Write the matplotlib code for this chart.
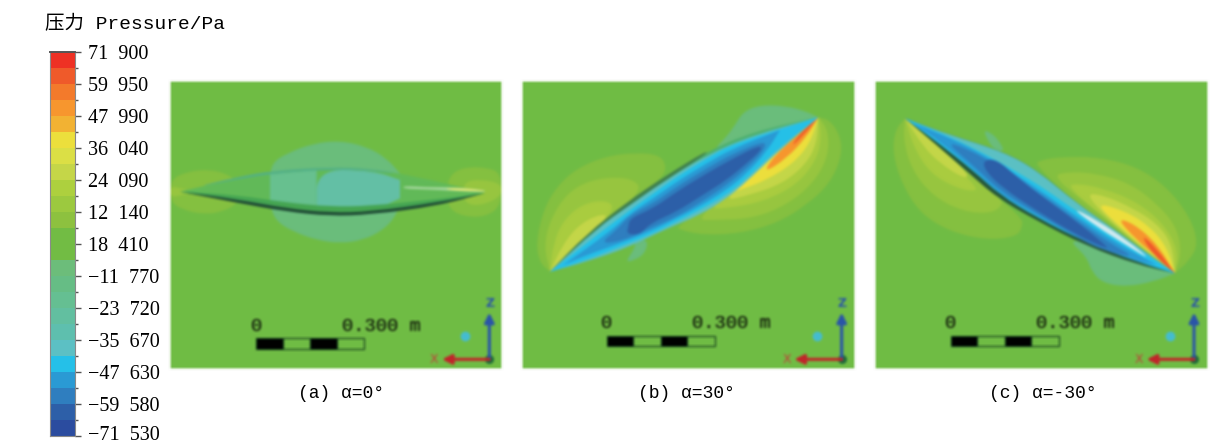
import numpy as np
import matplotlib
matplotlib.use('Agg')
import matplotlib.pyplot as plt
from matplotlib.colors import ListedColormap
from matplotlib.path import Path
from matplotlib.patches import PathPatch, Rectangle
from matplotlib.transforms import ScaledTranslation

W, H = 1215, 443

# colour scale
band_colors = ['#ee3124', '#ef5a2a', '#f37a2b', '#f7962e', '#f2b233', '#ecdf3c',
               '#dbdf45', '#c5d648', '#add03e', '#9cc93f', '#8dc13f', '#72bc44',
               '#72bc44', '#6cbd7a', '#66bd85', '#65bf92', '#62bfa0', '#5ebfae',
               '#5cc0c4', '#25c0e8', '#2a9ad4', '#2f7ebf', '#2d5fa8', '#2b4c9f']
bar_labels = ['71\u2002900', '59\u2002950', '47\u2002990', '36\u2002040', '24\u2002090',
              '12\u2002140', '18\u2002410', '\u221211\u2002770', '\u221223\u2002720',
              '\u221235\u2002670', '\u221247\u2002630', '\u221259\u2002580', '\u221271\u2002530']
captions = ['(a) \u03b1=0\u00b0', '(b) \u03b1=30\u00b0', '(c) \u03b1=-30\u00b0']

# outlines, in 3x crop pixels of each panel
a_tips = [(30, 335), (945, 339), (300, 282), (440, 270), (440, 398), (300, 382),
          (690, 300), (690, 355)]
a_lobe_l = [(0, 300), (50, 275), (120, 268), (180, 285), (215, 320), (210, 365), (160, 395),
            (100, 403), (40, 390), (0, 365)]
a_lobe_l2 = [(0, 318), (40, 326), (70, 335), (40, 345), (0, 352)]
a_lobe_r = [(995, 280), (950, 262), (880, 262), (840, 285), (830, 330), (835, 385), (880, 410),
            (950, 410), (995, 375)]
a_lobe_r2 = [(995, 310), (930, 298), (885, 305), (880, 335), (885, 370), (930, 378), (995, 350)]
a_patch = [(305, 250), (350, 220), (430, 190), (510, 182), (590, 200), (650, 235), (690, 280),
           (705, 300), (690, 360), (680, 405), (640, 450), (580, 480), (510, 490), (440, 480),
           (370, 455), (320, 425), (300, 380), (300, 300)]
a_body = [(30, 335), (200, 295), (310, 275), (480, 263), (600, 268), (720, 285), (945, 339),
          (800, 375), (600, 402), (480, 407), (350, 392), (200, 365)]
a_mid1 = [(300, 282), (440, 270), (440, 398), (300, 382)]
a_mid2 = [(440, 268), (610, 272), (690, 300), (690, 355), (610, 392), (440, 398)]
a_shade = [(30, 335), (200, 345), (350, 368), (480, 380), (600, 378), (800, 358), (945, 339),
           (800, 375), (600, 402), (480, 407), (350, 392), (200, 365)]
a_edge = [(30, 335), (200, 358), (350, 385), (480, 398), (600, 395), (800, 368), (945, 339),
          (800, 378), (600, 404), (480, 408), (350, 395), (200, 368)]
a_top = [(60, 325), (200, 292), (310, 272), (480, 262), (600, 266), (700, 284), (600, 272),
         (480, 268), (310, 280), (200, 298)]
a_glint = [(700, 318), (770, 322), (830, 322), (900, 325), (965, 335), (900, 335), (830, 331),
           (770, 328), (700, 326)]
a_glint2 = [(830, 324), (900, 327), (960, 335), (900, 333), (830, 329)]

b_tips = [(90, 575), (895, 112), (130, 555), (780, 150)]
b_l1 = [(90, 575), (60, 550), (48, 490), (70, 390), (110, 320), (170, 265), (260, 228), (350, 218),
        (420, 225), (440, 260), (425, 295), (330, 370), (230, 470), (150, 530)]
b_l2 = [(90, 575), (72, 500), (90, 420), (140, 340), (210, 300), (300, 290), (350, 305), (360, 330),
        (310, 385), (220, 470)]
b_l3 = [(90, 575), (100, 490), (130, 420), (190, 370), (260, 360), (285, 385), (220, 460)]
b_l4 = [(90, 575), (125, 500), (170, 440), (230, 405), (270, 405), (200, 480)]
b_r1 = [(895, 112), (930, 120), (962, 170), (965, 230), (930, 310), (860, 375), (770, 430),
        (660, 460), (550, 465), (480, 450), (470, 440), (600, 350), (750, 240)]
b_r2 = [(895, 112), (925, 150), (925, 230), (880, 310), (800, 375), (700, 415), (590, 420),
        (520, 420), (720, 260)]
b_r3 = [(895, 112), (905, 170), (890, 240), (830, 315), (730, 365), (620, 385), (560, 385), (740, 250)]
b_r4 = [(895, 112), (890, 190), (860, 250), (790, 310), (690, 345), (600, 365), (750, 240)]
b_r5 = [(895, 112), (870, 190), (820, 250), (740, 300), (660, 330), (620, 340), (770, 220)]
b_r6 = [(895, 112), (860, 170), (800, 235), (730, 280), (760, 230), (840, 160)]
b_r7 = [(895, 112), (855, 160), (810, 205), (840, 160)]
b_patch1 = [(895, 112), (860, 95), (800, 78), (720, 75), (670, 95), (645, 135), (620, 170),
            (575, 215), (700, 180)]
b_patch2 = [(385, 480), (375, 520), (345, 540), (315, 547), (345, 505), (345, 480)]
b_body = [(90, 575), (200, 465), (320, 370), (430, 295), (560, 215), (700, 155), (895, 112),
          (790, 200), (650, 320), (540, 400), (430, 450), (330, 500), (200, 545)]
b_top = [(90, 575), (200, 462), (320, 367), (430, 292), (560, 212), (560, 222), (430, 305),
         (320, 385), (200, 480)]
b_c1 = [(90, 575), (230, 445), (330, 375), (430, 305), (560, 225), (700, 165), (895, 112),
        (790, 200), (680, 305), (620, 355), (540, 405), (430, 450), (330, 500), (200, 545)]
b_c2 = [(90, 575), (250, 450), (330, 390), (400, 340), (470, 290), (560, 235), (640, 190), (895, 112),
        (780, 200), (680, 295), (620, 345), (530, 395), (460, 430), (390, 465), (300, 500), (200, 540)]
b_c3 = [(130, 555), (270, 455), (330, 400), (400, 355), (470, 305), (560, 250), (640, 205), (780, 150),
        (740, 215), (680, 280), (620, 330), (530, 385), (460, 420), (390, 455), (300, 490), (200, 525)]
b_c4 = [(240, 490), (290, 450), (330, 405), (400, 370), (470, 320), (560, 265), (640, 220), (740, 180),
        (730, 215), (680, 265), (620, 315), (540, 368), (470, 410), (390, 445), (300, 485)]
b_c5 = [(325, 440), (330, 415), (400, 385), (470, 335), (560, 280), (640, 235), (720, 195), (725, 210),
        (680, 250), (620, 300), (540, 350), (470, 395), (390, 430), (360, 465), (320, 462)]

c_tips = [(105, 115), (915, 580), (130, 130), (860, 555)]
c_l1 = [(105, 115), (75, 150), (68, 220), (95, 310), (150, 400), (240, 455), (350, 480), (440, 470),
        (458, 440), (455, 410), (300, 285)]
c_l2 = [(105, 115), (100, 180), (125, 270), (190, 350), (280, 395), (360, 400), (395, 380),
        (395, 355), (300, 280)]
c_l3 = [(105, 115), (130, 200), (180, 280), (260, 325), (320, 335), (315, 315), (200, 200)]
c_l4 = [(105, 115), (160, 200), (210, 250), (280, 295), (300, 285), (200, 195)]
c_r1 = [(915, 580), (960, 540), (985, 490), (960, 410), (890, 320), (800, 260), (690, 232),
        (580, 230), (510, 240), (495, 255), (620, 370), (760, 470)]
c_r2 = [(915, 580), (935, 520), (920, 440), (860, 370), (780, 310), (680, 280), (590, 275),
        (545, 290), (700, 410)]
c_r3 = [(915, 580), (925, 510), (880, 430), (800, 365), (700, 325), (620, 310), (590, 320), (760, 460)]
c_r4 = [(915, 580), (905, 490), (860, 430), (790, 385), (700, 345), (640, 340), (760, 460)]
c_r5 = [(915, 580), (890, 500), (840, 440), (770, 395), (670, 365), (760, 450)]
c_r6 = [(915, 580), (860, 490), (790, 430), (740, 415), (800, 480), (860, 530)]
c_r7 = [(915, 580), (860, 505), (810, 460), (850, 525)]
c_patch1 = [(915, 580), (850, 605), (770, 620), (700, 610), (665, 575), (650, 530), (590, 475), (700, 500)]
c_patch2 = [(340, 150), (365, 160), (385, 180), (405, 215), (375, 210), (355, 185)]
c_body = [(105, 115), (240, 165), (400, 215), (500, 270), (620, 370), (750, 460), (915, 580),
          (800, 553), (650, 498), (500, 422), (380, 352), (300, 282), (200, 195)]
c_c1 = [(105, 115), (240, 165), (400, 215), (500, 270), (620, 370), (750, 460), (915, 580),
        (800, 540), (650, 480), (500, 405), (400, 340), (330, 280), (210, 190)]
c_c2 = [(105, 115), (250, 175), (350, 225), (440, 275), (530, 330), (620, 395), (750, 470), (915, 580),
        (800, 545), (650, 488), (500, 412), (390, 345), (310, 272), (200, 185)]
c_c3 = [(130, 130), (250, 178), (350, 230), (440, 285), (530, 345), (620, 410), (740, 490), (860, 555),
        (790, 542), (650, 485), (500, 408), (385, 340), (310, 268), (210, 185)]
c_c4 = [(215, 175), (350, 235), (440, 295), (530, 355), (620, 420), (720, 490), (800, 535), (700, 512),
        (620, 472), (500, 400), (390, 332), (320, 265)]
c_c5 = [(340, 240), (380, 238), (440, 290), (530, 360), (620, 425), (700, 490), (720, 510), (620, 465),
        (500, 392), (400, 325), (345, 272)]
c_glint = [(600, 380), (680, 420), (770, 480), (850, 545), (760, 490), (680, 440)]

# panel furniture: origin of the triad, small ball, scale bar left/top, scale label baseline
triad_x = [958, 965, 972]
ball_x = [885, 892, 900]
scale_x = [259, 260, 242]
scale_y = [775, 767, 767]
scale_seg = [0, 79, 162, 242, 324]

# left, right pixel edges of the panels
panel_l = [170, 522, 875]
panel_r = [502, 855, 1208]
crop_l = [170, 520, 870]
caption_x = [341, 686, 1043]

bg = '#70bc45'
lv1, lv2, lv3, lv4 = '#85c040', '#97c63f', '#a9cc3f', '#c4d648'
yel, ora, red = '#ecdf3c', '#f7962e', '#ef5a2a'
teal = '#6abd7c'


def blur(img, dpi, n=1):
    pad = 3 * n
    widths = ((pad, pad), (pad, pad), (0, 0))
    rgb = np.pad(img[:, :, :3], widths, constant_values=1.0)
    alpha = np.pad(img[:, :, 3:], widths, constant_values=0.0)
    out = np.concatenate([rgb, alpha], axis=2)
    k = np.ones(2 * n + 1) / (2 * n + 1)
    for _ in range(2):
        out = np.apply_along_axis(lambda m: np.convolve(m, k, mode='same'), 0, out)
        out = np.apply_along_axis(lambda m: np.convolve(m, k, mode='same'), 1, out)
    return out, -pad, -pad


def add_shape(ax, pts, color, tips):
    pts = [tuple(p) for p in pts]
    n = len(pts)
    mids = [((pts[i][0] + pts[(i + 1) % n][0]) / 2, (pts[i][1] + pts[(i + 1) % n][1]) / 2) for i in range(n)]
    verts = [mids[-1]]
    codes = [Path.MOVETO]
    for i in range(n):
        verts += [pts[i], mids[i]]
        if pts[i] in tips:
            codes += [Path.LINETO, Path.LINETO]
        else:
            codes += [Path.CURVE3, Path.CURVE3]
    ax.add_patch(PathPatch(Path(verts, codes), fc=color, ec='none', lw=0))


fig = plt.figure(figsize=(W / 100, H / 100), dpi=100)

# colour bar
cax = fig.add_axes([50 / W, 1 - 436 / H, 25 / W, 384 / H])
cmap = ListedColormap(band_colors)
cax.pcolormesh([0, 1], np.arange(25), np.arange(24).reshape(-1, 1), cmap=cmap, vmin=0, vmax=24)
cax.set_ylim(24, 0)
cax.set_xlim(0, 1)
cax.set_xticks([])
cax.yaxis.tick_right()
cax.set_yticks(np.arange(0, 25, 2))
cax.set_yticklabels(bar_labels, family='Liberation Serif', fontsize=14.5)
cax.set_yticks(np.arange(1, 24, 2), minor=True)
cax.tick_params(axis='y', which='major', length=4, width=1, color='#555555', pad=5)
cax.tick_params(axis='y', which='minor', length=2, width=1, color='#555555')
for s in cax.spines.values():
    s.set_color('#8a8a8a')
    s.set_linewidth(0.8)
cax.spines['top'].set_color('#555555')
cax.spines['top'].set_linewidth(1.4)
# last label sits right at the bottom edge of the figure
last = cax.get_yticklabels()[-1]
last.set_transform(last.get_transform() + ScaledTranslation(0, 2.5 / 72, fig.dpi_scale_trans))

fig.text(45 / W, 1 - 24 / H, '压力 Pressure/Pa', family=['Liberation Mono', 'Noto Sans CJK SC'],
         fontsize=14, va='center', ha='left')

shapes = [
    [(a_lobe_l, lv1), (a_lobe_l2, lv2), (a_lobe_r, lv1), (a_lobe_r2, lv2), (a_patch, teal),
     (a_body, '#62ba58'), (a_mid1, '#67c08f'), (a_mid2, '#64bfa5'), (a_top, '#52b088'),
     (a_shade, '#45a552'), (a_edge, '#1f4a35'), (a_glint, '#a8d9a0'), (a_glint2, '#f4ec6a')],
    [(b_l1, lv1), (b_l2, lv2), (b_l3, lv3), (b_l4, lv4), (b_r1, lv1), (b_r2, lv2), (b_r3, lv3),
     (b_r4, lv4), (b_r5, yel), (b_r6, ora), (b_r7, red), (b_patch1, teal), (b_patch2, teal),
     (b_body, '#4db070'), (b_top, '#3f7f4e'), (b_c1, '#5cc0c4'), (b_c2, '#25c0e8'),
     (b_c3, '#2a9ad4'), (b_c4, '#2f7ebf'), (b_c5, '#2d5fa8')],
    [(c_l1, lv1), (c_l2, lv2), (c_l3, lv3), (c_l4, lv4), (c_r1, lv1), (c_r2, lv2), (c_r3, lv3),
     (c_r4, lv4), (c_r5, yel), (c_r6, ora), (c_r7, red), (c_patch1, teal), (c_patch2, teal),
     (c_body, '#27573a'), (c_c1, '#5cc0c4'), (c_c2, '#25c0e8'), (c_c3, '#2a9ad4'),
     (c_c4, '#2f7ebf'), (c_c5, '#2d5fa8'), (c_glint, '#cfeaf0')],
]
tips = [a_tips, b_tips, c_tips]

for i in range(3):
    ax = fig.add_axes([panel_l[i] / W, 1 - 369 / H, (panel_r[i] - panel_l[i]) / W, 288 / H])
    ax.set_facecolor(bg)
    ax.set_xlim((panel_l[i] - crop_l[i]) * 3, (panel_r[i] - crop_l[i]) * 3)
    ax.set_ylim(867, 3)
    ax.set_xticks([])
    ax.set_yticks([])
    for s in ax.spines.values():
        s.set_visible(False)
    for pts, col in shapes[i]:
        add_shape(ax, pts, col, tips[i])

    # scale bar
    sx, sy = scale_x[i], scale_y[i]
    for j in range(4):
        fc = 'black' if j % 2 == 0 else bg
        ax.add_patch(Rectangle((sx + scale_seg[j], sy), scale_seg[j + 1] - scale_seg[j], 31,
                               fc=fc, ec='#123c1c', lw=0.8))
    ax.text(sx, sy - 36, '0', family='Liberation Mono', fontsize=13.5, ha='center', va='center')
    ax.text(sx + 256, sy - 36, '0.300 m', family='Liberation Mono', fontsize=13.5, ha='left', va='center')

    # axis triad
    ox = triad_x[i]
    ax.annotate('', xy=(ox, 698), xytext=(ox, 838),
                arrowprops=dict(arrowstyle='-|>', color='#2a55a8', lw=2.2, mutation_scale=14, shrinkA=0, shrinkB=0))
    ax.annotate('', xy=(ox - 142, 838), xytext=(ox, 838),
                arrowprops=dict(arrowstyle='-|>', color='#c0262a', lw=2.2, mutation_scale=14, shrinkA=0, shrinkB=0))
    ax.plot([ox], [838], 'o', ms=6.5, color='#1f6b3a', mec='none')
    ax.plot([ball_x[i]], [767], 'o', ms=7, color='#45bcd0', mec='none')
    ax.text(ox + 2, 670, 'Z', color='#2a55a8', fontsize=9, fontweight='bold', ha='center', va='center')
    ax.text(ox - 165, 838, 'X', color='#c0403a', fontsize=9, ha='center', va='center')

    ax.set_agg_filter(lambda img, dpi: blur(img, dpi, 1))

    fig.text(caption_x[i] / W, 1 - 393 / H, captions[i],
             family='Liberation Mono', fontsize=13, ha='center', va='center')

fig.savefig('out.png', dpi=100)
